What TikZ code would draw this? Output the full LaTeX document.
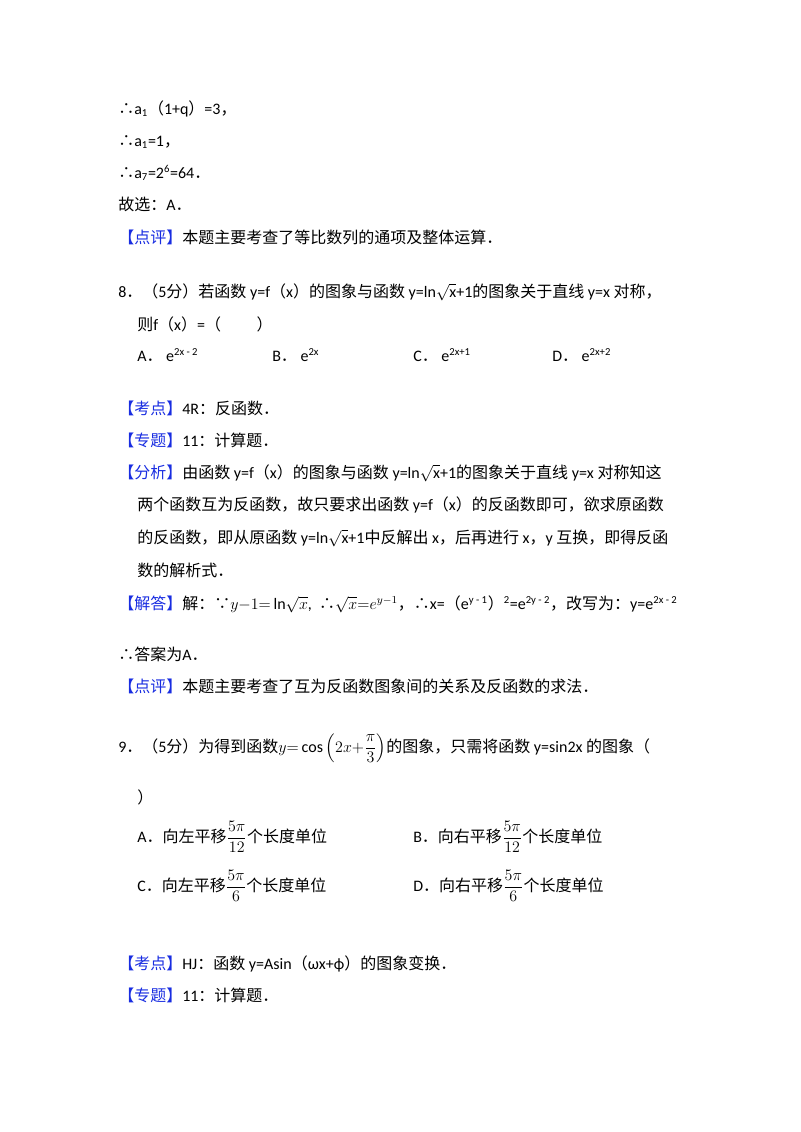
\documentclass[tikz,border=0pt]{standalone}
\usepackage{amsmath}
\usepackage{fontspec}
\setmainfont{Carlito}
\newfontfamily\cjk{Noto Sans CJK SC}
\definecolor{kblue}{RGB}{25,45,225}
\newcommand{\kb}[1]{{\color{kblue}\cjk 【#1】}}
\newcommand{\zh}[1]{{\cjk #1}}
\begin{document}
\begin{tikzpicture}[x=0.75pt,y=-0.75pt,every node/.style={anchor=base west,inner sep=0pt,font=\fontsize{12}{14}\selectfont}]
\useasboundingbox (0,0) rectangle (800,1132);
\node (l1) at (118,114) {\zh{∴}a\textsubscript{1}\zh{（}1+q\zh{）}=3\zh{，}};
\node (l2) at (118,146) {\zh{∴}a\textsubscript{1}=1\zh{，}};
\node (l3) at (118,178) {\zh{∴}a\textsubscript{7}=2\textsuperscript{6}=64\zh{．}};
\node (l4) at (118,210) {\zh{故选：}A\zh{．}};
\node (l5) at (118,243) {\kb{点评}\zh{本题主要考查了等比数列的通项及整体运算．}};
\node (q8) at (118,297) {8\zh{．（}5\zh{分）若函数} y=f\zh{（}x\zh{）的图象与函数} y=ln$\sqrt{\mathrm{x}}$+1\zh{的图象关于直线} y=x \zh{对称，}};
\node (q8b) at (137,330) {\zh{则}f\zh{（}x\zh{）}=\zh{（\qquad\ ）}};
\node (oa) at (137,361) {A\zh{．} e\textsuperscript{2x - 2}};
\node (ob) at (272,361) {B\zh{．} e\textsuperscript{2x}};
\node (oc) at (413,361) {C\zh{．} e\textsuperscript{2x+1}};
\node (od) at (552,361) {D\zh{．} e\textsuperscript{2x+2}};
\node (k1) at (118,414) {\kb{考点}4R\zh{：反函数．}};
\node (k2) at (118,446) {\kb{专题}11\zh{：计算题．}};
\node (k3) at (118,478) {\kb{分析}\zh{由函数} y=f\zh{（}x\zh{）的图象与函数} y=ln$\sqrt{\mathrm{x}}$+1\zh{的图象关于直线} y=x \zh{对称知这}};
\node (k4) at (137,510) {\zh{两个函数互为反函数，故只要求出函数} y=f\zh{（}x\zh{）的反函数即可，欲求原函数}};
\node (k5) at (137,543) {\zh{的反函数，即从原函数} y=ln$\sqrt{\mathrm{x}}$+1\zh{中反解出} x\zh{，后再进行} x\zh{，}y \zh{互换，即得反函}};
\node (k6) at (137,576) {\zh{数的解析式．}};
\node (k7) at (118,609) {\kb{解答}\zh{解：∵}$y{-}1{=}\ln\!\sqrt{x}$, \ \zh{∴}$\sqrt{x}{=}e^{y-1}$\zh{，∴}x=\zh{（}e\textsuperscript{y - 1}\zh{）}\textsuperscript{2}=e\textsuperscript{2y - 2}\zh{，改写为：}y=e\textsuperscript{2x - 2}};
\node (k8) at (118,660) {\zh{∴答案为}A\zh{．}};
\node (k9) at (118,692) {\kb{点评}\zh{本题主要考查了互为反函数图象间的关系及反函数的求法．}};
\node (q9) at (118,752) {9\zh{．（}5\zh{分）为得到函数}$y{=}\cos\left(2x{+}\dfrac{\pi}{3}\right)$\zh{的图象，只需将函数} y=sin2x \zh{的图象（}};
\node (q9b) at (137,803) {\zh{）}};
\node (pa) at (137,842) {A\zh{．向左平移}$\dfrac{5\pi}{12}$\zh{个长度单位}};
\node (pb) at (413,842) {B\zh{．向右平移}$\dfrac{5\pi}{12}$\zh{个长度单位}};
\node (pc) at (137,891) {C\zh{．向左平移}$\dfrac{5\pi}{6}$\zh{个长度单位}};
\node (pd) at (413,891) {D\zh{．向右平移}$\dfrac{5\pi}{6}$\zh{个长度单位}};
\node (m1) at (118,969) {\kb{考点}HJ\zh{：函数} y=Asin\zh{（}ωx+ϕ\zh{）的图象变换．}};
\node (m2) at (118,1001) {\kb{专题}11\zh{：计算题．}};
\end{tikzpicture}
\end{document}
